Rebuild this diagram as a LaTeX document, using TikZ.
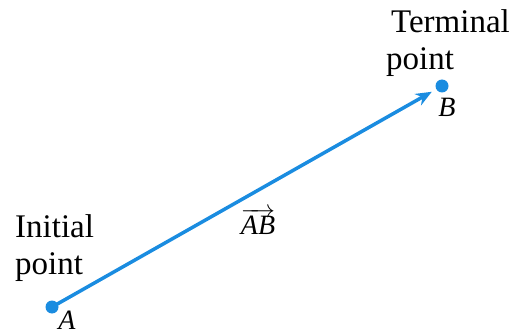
\documentclass[tikz,border=0pt]{standalone}
\usepackage{fontspec}
\setmainfont{Liberation Serif}
\usetikzlibrary{arrows.meta}
\definecolor{vblue}{HTML}{1A8CE0}
\tikzset{
  lbl/.style={font=\fontsize{33}{38}\selectfont, inner sep=0pt, anchor=base west},
  ptlbl/.style={font=\fontsize{28}{32}\selectfont, inner sep=0pt, anchor=base},
  dot/.style={circle, fill=vblue, inner sep=0pt, minimum size=13pt},
  vec/.style={vblue, line width=3.5pt, -{Stealth[length=16pt,width=13pt]}, shorten >=5pt}
}
\begin{document}
\begin{tikzpicture}[x=1pt,y=-1pt]
\useasboundingbox (0,0) rectangle (512,334);
\node[dot] (A) at (52,307) {};
\node[dot] (B) at (442,86) {};
\draw[vec] (A.center) -- (B);
\node[lbl] (i1) at (15,238) {Initial};
\node[lbl] (i2) at (15,274) {point};
\node[lbl] (t1) at (391,33) {Terminal};
\node[lbl] (t2) at (386,70) {point};
\node[ptlbl] (la) at (67,329) {\textit{A}};
\node[ptlbl] (lb) at (447,117) {\textit{B}};
\node[ptlbl] (lab) at (258,235) {$\overrightarrow{\textit{AB}}$};
\end{tikzpicture}
\end{document}
